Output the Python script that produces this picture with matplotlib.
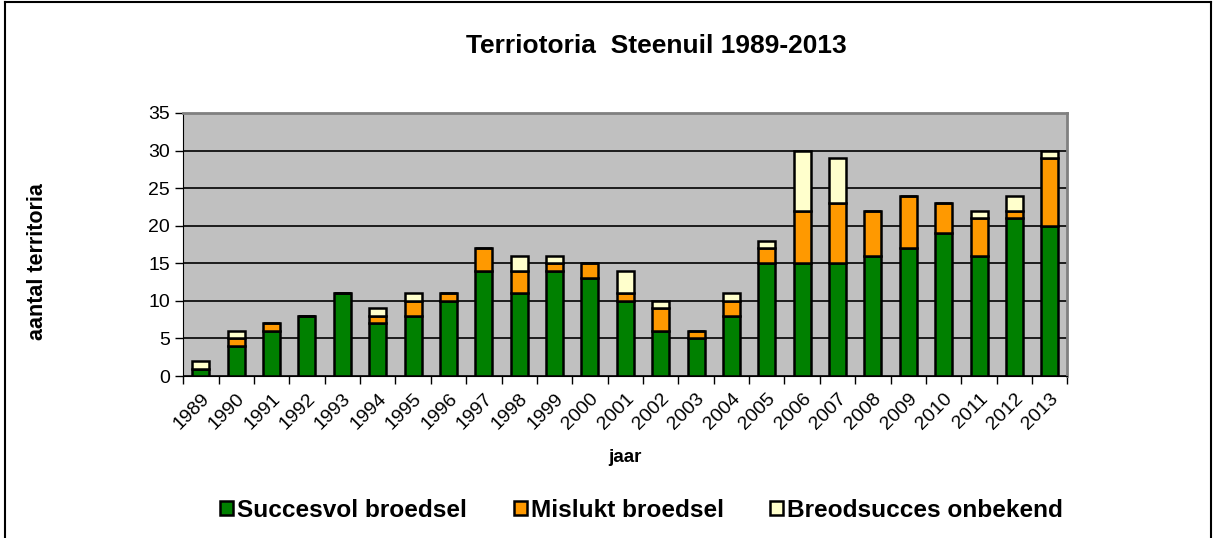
import matplotlib.pyplot as plt
import numpy as np
from matplotlib.lines import Line2D

plt.rcParams['font.family'] = ['Liberation Sans', 'DejaVu Sans']

years = ['1989', '1990', '1991', '1992', '1993', '1994', '1995', '1996', '1997', '1998',
         '1999', '2000', '2001', '2002', '2003', '2004', '2005', '2006', '2007', '2008',
         '2009', '2010', '2011', '2012', '2013']
succesvol = [1, 4, 6, 8, 11, 7, 8, 10, 14, 11, 14, 13, 10, 6, 5, 8, 15, 15, 15, 16, 17, 19, 16, 21, 20]
mislukt = [0, 1, 1, 0, 0, 1, 2, 1, 3, 3, 1, 2, 1, 3, 1, 2, 2, 7, 8, 6, 7, 4, 5, 1, 9]
onbekend = [1, 1, 0, 0, 0, 1, 1, 0, 0, 2, 1, 0, 3, 1, 0, 1, 1, 8, 6, 0, 0, 0, 1, 2, 1]

fig = plt.figure(figsize=(12.13, 5.38), dpi=100)
ax = fig.add_axes([0.151, 0.301, 0.729, 0.489])

x = np.arange(len(years))
w = 0.48
s = np.array(succesvol)
m = np.array(mislukt)
o = np.array(onbekend)
b1 = ax.bar(x, s, w, color='#008000', edgecolor='black', linewidth=1.8, label='Succesvol broedsel', zorder=3)
b2 = ax.bar(x, m, w, bottom=s, color='#FF9900', edgecolor='black', linewidth=1.8, label='Mislukt broedsel', zorder=3)
b3 = ax.bar(x, o, w, bottom=s + m, color='#FFFFCC', edgecolor='black', linewidth=1.8, label='Breodsucces onbekend', zorder=3)

ax.set_facecolor('#C0C0C0')
ax.set_ylim(0, 35)
ax.set_xlim(-0.5, len(years) - 0.5)
ax.set_yticks(np.arange(0, 36, 5))
ax.yaxis.grid(True, color='black', linewidth=1.2, zorder=1)
ax.set_axisbelow(True)

ax.set_xticks(x)
ax.set_xticklabels(years, rotation=45, ha='right', rotation_mode='anchor')
ax.set_xticks(np.arange(-0.5, len(years), 1), minor=True)
ax.tick_params(axis='x', which='major', length=0, labelsize=14, pad=10)
ax.tick_params(axis='x', which='minor', length=6, width=1, color='black')
ax.tick_params(axis='y', length=6, width=1, labelsize=14)

for side in ['top', 'right']:
    ax.spines[side].set_color('#808080')
    ax.spines[side].set_linewidth(2)
ax.spines['left'].set_color('black')
ax.spines['bottom'].set_color('black')

ax.set_xlabel('jaar', fontsize=13.5, fontweight='bold', labelpad=12)
ax.set_ylabel('aantal territoria', fontsize=15.5, fontweight='bold')
ax.yaxis.set_label_coords(-0.153, 0.437)
fig.text(0.541, 0.915, 'Terriotoria  Steenuil 1989-2013', fontsize=19, fontweight='bold',
         ha='center', va='center')

# legend entries placed one by one, as in the reference
for h, lab, xpos in [(b1, 'Succesvol broedsel', 220), (b2, 'Mislukt broedsel', 514),
                     (b3, 'Breodsucces onbekend', 770)]:
    fig.legend([h], [lab], loc='center left', bbox_to_anchor=(xpos / 1213, 0.052), frameon=False,
               handlelength=0.55, handleheight=0.55, handletextpad=0.15, borderpad=0, borderaxespad=0,
               prop={'weight': 'bold', 'size': 17.6})

fig.add_artist(Line2D([0.004, 0.004], [0, 0.997], transform=fig.transFigure, color='black', linewidth=1.5))
fig.add_artist(Line2D([0.004, 0.998], [0.997, 0.997], transform=fig.transFigure, color='black', linewidth=1.5))
fig.add_artist(Line2D([0.998, 0.998], [0, 0.997], transform=fig.transFigure, color='black', linewidth=1.5))

fig.savefig('out.png', dpi=100)
